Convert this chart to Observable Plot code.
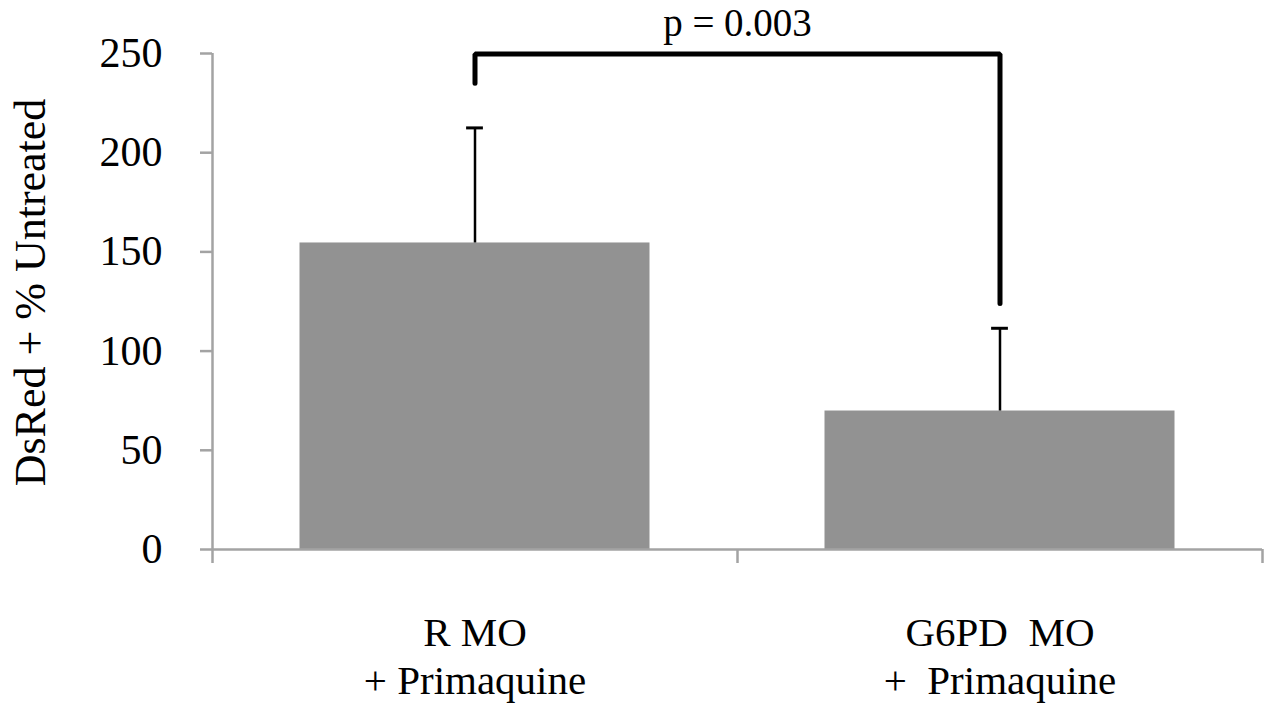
<!DOCTYPE html>
<html><head><meta charset="utf-8">
<script src="https://cdn.jsdelivr.net/npm/d3@7"></script>
<script src="https://cdn.jsdelivr.net/npm/@observablehq/plot@0.6"></script>
<style>body{margin:0;background:#fff}</style>
</head><body><div id="chart"></div>
<script>
const categories = ["R MO\n+ Primaquine", "G6PD  MO\n+  Primaquine"];
const means = [154.5, 69.8];
const errUpper = [58.0, 41.7];
const yTicks = [0, 50, 100, 150, 200, 250];
const yLabel = "DsRed + % Untreated";
const pLabel = "p = 0.003";
const bracketTop = 249.7;
const bracketEnds = [235, 124];
const pLabelY = 265;

const data = categories.map((c, i) => ({cat: c, i, mean: means[i], top: means[i] + errUpper[i]}));
const bracket = [
  {x: data[0].i + 0.5, y: bracketEnds[0]},
  {x: data[0].i + 0.5, y: bracketTop},
  {x: data[1].i + 0.5, y: bracketTop},
  {x: data[1].i + 0.5, y: bracketEnds[1]}
];

const font = "'Liberation Serif', 'Times New Roman', serif";
const axisGray = "#a3a3a3";
const capHalf = 0.016;

const chart = Plot.plot({
  width: 1272, height: 704,
  marginLeft: 212, marginRight: 10, marginTop: 53, marginBottom: 155,
  style: {fontFamily: font, fontSize: "41px", background: "#fff", color: "black"},
  x: {domain: [0, categories.length], axis: null},
  y: {domain: [0, 250], axis: null},
  marks: [
    Plot.rect(data, {x1: d => d.i + 1/6, x2: d => d.i + 5/6, y1: 0, y2: "mean", fill: "#929292"}),
    Plot.ruleX(data, {x: d => d.i + 0.5, y1: "mean", y2: "top", stroke: "black", strokeWidth: 2.5}),
    Plot.ruleY(data, {y: "top", x1: d => d.i + 0.5 - capHalf, x2: d => d.i + 0.5 + capHalf, stroke: "black", strokeWidth: 3}),
    Plot.ruleX([0], {y1: 0, y2: 250, stroke: axisGray, strokeWidth: 2.5}),
    Plot.ruleY([0], {x1: 0, x2: categories.length, stroke: axisGray, strokeWidth: 2.5}),
    Plot.axisY({ticks: yTicks, tickSize: 12, fill: "none", stroke: axisGray, strokeWidth: 2.5, label: null}),
    Plot.axisY({ticks: yTicks, tickSize: 0, tickPadding: 50, fill: "black", fontSize: 42, label: null}),
    Plot.axisX({ticks: [0, 1, 2], tickSize: 14, fill: "none", stroke: axisGray, strokeWidth: 2.5, label: null}),
    Plot.text(data, {x: d => d.i + 0.5, text: "cat", frameAnchor: "bottom", lineAnchor: "top", dy: 62, fontSize: 41, lineHeight: 1.17}),
    Plot.line(bracket, {x: "x", y: "y", stroke: "black", strokeWidth: 5, strokeLinejoin: "miter"}),
    Plot.text([pLabel], {x: 1, y: pLabelY, text: d => d, fontSize: 39}),
    Plot.text([yLabel], {frameAnchor: "left", textAnchor: "middle", rotate: -90, dx: -182, dy: -9, fontSize: 44, text: d => d})
  ]
});
document.getElementById("chart").appendChild(chart);
</script>
</body></html>
